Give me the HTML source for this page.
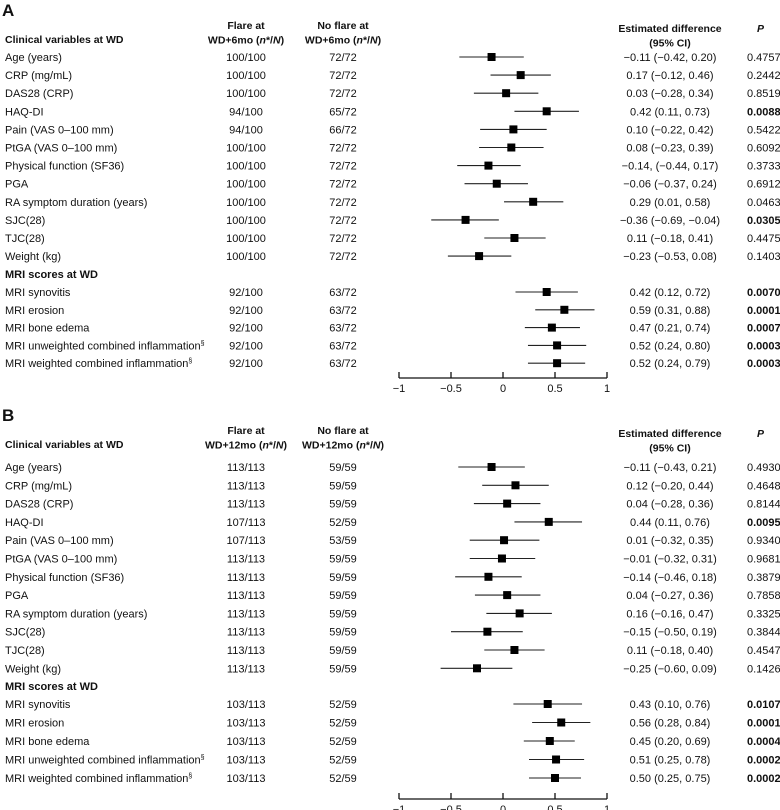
<!DOCTYPE html>
<html><head><meta charset="utf-8">
<style>
body{margin:0;background:#fff;}
svg{display:block;font-family:"Liberation Sans",Arial,sans-serif;}
text{font-size:11px;fill:#111;}
.b{font-weight:bold;}
.h{font-size:10.5px;font-weight:bold;}
</style></head>
<body>
<svg id="c" width="780" height="810"></svg>
<script>
const labels=["Age (years)","CRP (mg/mL)","DAS28 (CRP)","HAQ-DI","Pain (VAS 0\u2013100 mm)","PtGA (VAS 0\u2013100 mm)","Physical function (SF36)","PGA","RA symptom duration (years)","SJC(28)","TJC(28)","Weight (kg)"];
const mriLabels=["MRI synovitis","MRI erosion","MRI bone edema","MRI unweighted combined inflammation","MRI weighted combined inflammation"];
const mriSup=["","","","\u00a7","\u00a7"];
const ticks=[-1,-0.5,0,0.5,1];
const tickLabels=["\u22121","\u22120.5","0","0.5","1"];
// Panel A
const aFlare=["100/100","100/100","100/100","94/100","94/100","100/100","100/100","100/100","100/100","100/100","100/100","100/100","92/100","92/100","92/100","92/100","92/100"];
const aNo=["72/72","72/72","72/72","65/72","66/72","72/72","72/72","72/72","72/72","72/72","72/72","72/72","63/72","63/72","63/72","63/72","63/72"];
const aEst=[-0.11,0.17,0.03,0.42,0.10,0.08,-0.14,-0.06,0.29,-0.36,0.11,-0.23,0.42,0.59,0.47,0.52,0.52];
const aLo=[-0.42,-0.12,-0.28,0.11,-0.22,-0.23,-0.44,-0.37,0.01,-0.69,-0.18,-0.53,0.12,0.31,0.21,0.24,0.24];
const aHi=[0.20,0.46,0.34,0.73,0.42,0.39,0.17,0.24,0.58,-0.04,0.41,0.08,0.72,0.88,0.74,0.80,0.79];
const aP=["0.4757","0.2442","0.8519","0.0088","0.5422","0.6092","0.3733","0.6912","0.0463","0.0305","0.4475","0.1403","0.0070","0.0001","0.0007","0.0003","0.0003"];
const aSig=[0,0,0,1,0,0,0,0,0,1,0,0,1,1,1,1,1];
// Panel B
const bFlare=["113/113","113/113","113/113","107/113","107/113","113/113","113/113","113/113","113/113","113/113","113/113","113/113","103/113","103/113","103/113","103/113","103/113"];
const bNo=["59/59","59/59","59/59","52/59","53/59","59/59","59/59","59/59","59/59","59/59","59/59","59/59","52/59","52/59","52/59","52/59","52/59"];
const bEst=[-0.11,0.12,0.04,0.44,0.01,-0.01,-0.14,0.04,0.16,-0.15,0.11,-0.25,0.43,0.56,0.45,0.51,0.50];
const bLo=[-0.43,-0.20,-0.28,0.11,-0.32,-0.32,-0.46,-0.27,-0.16,-0.50,-0.18,-0.60,0.10,0.28,0.20,0.25,0.25];
const bHi=[0.21,0.44,0.36,0.76,0.35,0.31,0.18,0.36,0.47,0.19,0.40,0.09,0.76,0.84,0.69,0.78,0.75];
const bP=["0.4930","0.4648","0.8144","0.0095","0.9340","0.9681","0.3879","0.7858","0.3325","0.3844","0.4547","0.1426","0.0107","0.0001","0.0004","0.0002","0.0002"];
const bSig=[0,0,0,1,0,0,0,0,0,0,0,0,1,1,1,1,1];

const svg=document.getElementById('c');
const NS="http://www.w3.org/2000/svg";
const FX=246, NX=343;
function x(v){return 503+104*v;}
function fmt(v){return (v<0?"\u2212":"")+Math.abs(v).toFixed(2);}
function mk(tag,attrs,txt){const e=document.createElementNS(NS,tag);for(const k in attrs)e.setAttribute(k,attrs[k]);if(txt!==undefined)e.textContent=txt;svg.appendChild(e);return e;}

function panel(P){
  let e=mk('text',{x:2,y:P.top,'class':'b',style:'font-size:17px'},P.letter);
  
  
  e=mk('text',{x:5,y:P.top+27,'class':'h'},"Clinical variables at WD");
  
  
  e=mk('text',{x:FX,y:P.top+13,'class':'h','text-anchor':'middle'});
  e.innerHTML='<tspan x="'+FX+'">Flare at</tspan><tspan x="'+FX+'" dy="14.5">'+P.wd+' (<tspan font-style="italic">n</tspan>*/<tspan font-style="italic">N</tspan>)</tspan>';
  
  
  e=mk('text',{x:NX,y:P.top+13,'class':'h','text-anchor':'middle'});
  e.innerHTML='<tspan x="'+NX+'">No flare at</tspan><tspan x="'+NX+'" dy="14.5">'+P.wd+' (<tspan font-style="italic">n</tspan>*/<tspan font-style="italic">N</tspan>)</tspan>';
  
  
  e=mk('text',{x:670,y:P.top+16,'class':'h','text-anchor':'middle'});
  e.innerHTML='<tspan x="670">Estimated difference</tspan><tspan x="670" dy="14.5">(95% CI)</tspan>';
  
  
  e=mk('text',{x:757,y:P.top+16,'class':'h','font-style':'italic'},"P");
  
  
  e=mk('text',{x:5,y:P.mriHead+4,'class':'b'},"MRI scores at WD");
  
  
  const all=labels.concat(mriLabels);
  for(let i=0;i<all.length;i++){
    const y=i<12?P.row0+i*P.sp:P.mri0+(i-12)*P.msp;
    e=mk('text',{x:5,y:y+4},all[i]);
    if(i>=12&&mriSup[i-12]){const s=document.createElementNS(NS,'tspan');s.setAttribute('font-size','7');s.setAttribute('dy','-4');s.textContent=mriSup[i-12];e.appendChild(s);}
    
    
    e=mk('text',{x:FX,y:y+4,'text-anchor':'middle'},P.flare[i]);
    
    
    e=mk('text',{x:NX,y:y+4,'text-anchor':'middle'},P.no[i]);
    
    
    e=mk('line',{x1:x(P.lo[i]),x2:x(P.hi[i]),y1:y,y2:y,stroke:'#222','stroke-width':1.1});
    
    
    e=mk('rect',{x:x(P.est[i])-4,y:y-4,width:8,height:8,fill:'#000'});
    
    
    const sep=(P.letter==="A"&&i===6)?", (":" (";
    e=mk('text',{x:670,y:y+4,'text-anchor':'middle'},fmt(P.est[i])+sep+fmt(P.lo[i])+", "+fmt(P.hi[i])+")");
    
    
    e=mk('text',{x:747,y:y+4,'class':P.sig[i]?'b':''},P.p[i]);
    
    
  }
  e=mk('line',{x1:x(-1),x2:x(1),y1:P.axis,y2:P.axis,stroke:'#111','stroke-width':1.3});
  
  
  for(let t=0;t<ticks.length;t++){
    e=mk('line',{x1:x(ticks[t]),x2:x(ticks[t]),y1:P.axis,y2:P.axis-6,stroke:'#111','stroke-width':1.3});
    
    
    e=mk('text',{x:x(ticks[t]),y:P.axis+14,'text-anchor':'middle'},tickLabels[t]);
    
    
  }
}
panel({letter:"A",top:16,wd:"WD+6mo",row0:57,sp:18.1,mriHead:274,mri0:292,msp:17.8,axis:378,flare:aFlare,no:aNo,est:aEst,lo:aLo,hi:aHi,p:aP,sig:aSig});
panel({letter:"B",top:421,wd:"WD+12mo",row0:467,sp:18.3,mriHead:686,mri0:704,msp:18.5,axis:799,flare:bFlare,no:bNo,est:bEst,lo:bLo,hi:bHi,p:bP,sig:bSig});
</script>
</body></html>
